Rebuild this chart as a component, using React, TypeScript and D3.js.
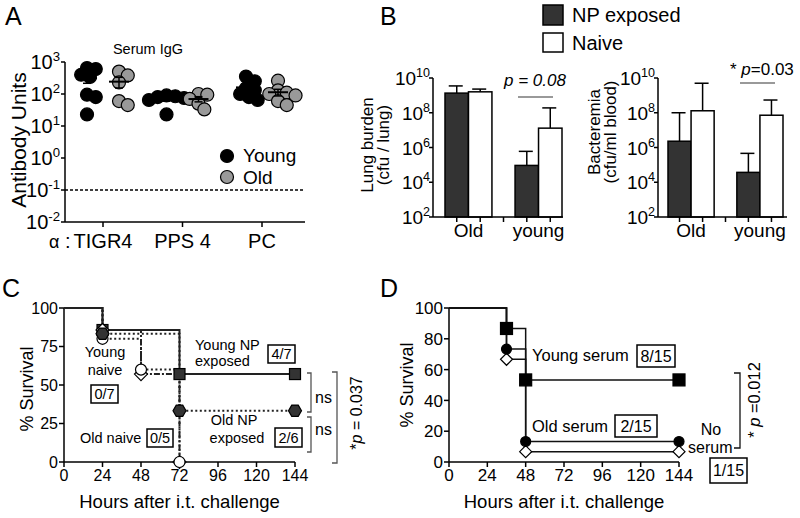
import React from 'react';
import * as d3 from 'd3';

// ---------- Panel A : serum IgG ----------
const antigens = ['TIGR4', 'PPS 4', 'PC'];
const youngTIGR4 = [650, 600, 400, 340, 95, 80, 23];
const oldTIGR4 = [500, 380, 230, 60, 45];
const youngPPS4 = [90, 85, 80, 75, 65, 23];
const oldPPS4 = [100, 95, 70, 50, 33];
const youngPC = [350, 250, 150, 130, 100, 80, 65];
const oldPC = [260, 130, 110, 100, 90, 60, 45];
const aExponents = [-2, -1, 0, 1, 2, 3];
const detectionLimit = 0.1;

// ---------- Panel B : bacterial burden ----------
const bGroups = ['Old', 'young'];
const bSeries = ['NP exposed', 'Naive'];
const lungNP = [1.35e9, 9.3e4];
const lungNaive = [1.6e9, 1.3e7];
const lungNPUpper = [3.5e9, 6e5];
const lungNaiveUpper = [2.3e9, 1.9e8];
const bloodNP = [2.3e6, 3.7e4];
const bloodNaive = [1.3e8, 7.2e7];
const bloodNPUpper = [1e8, 4.6e5];
const bloodNaiveUpper = [5e9, 5.4e8];
const bExponents = [2, 4, 6, 8, 10];

// ---------- Panel C : survival ----------
const hoursNP = [0, 24, 72, 144];
const youngNPSurv = [100, 85.7, 57.1, 57.1];
const oldNPSurv = [100, 83.3, 33.3, 33.3];
const hoursNaive = [0, 24, 48, 72];
const youngNaiveSurv = [100, 85.7, 57.1, 0];
const oldNaiveSurv = [100, 80, 60, 0];
const hourTicks = [0, 24, 48, 72, 96, 120, 144];
const cSurvTicks = [0, 25, 50, 75, 100];

// ---------- Panel D : serum transfer survival ----------
const hoursD = [0, 36, 48, 144];
const youngSerumSurv = [100, 86.7, 53.3, 53.3];
const oldSerumSurv = [100, 73.3, 13.3, 13.3];
const noSerumSurv = [100, 66.7, 6.7, 6.7];
const dSurvTicks = [0, 20, 40, 60, 80, 100];

const FONT = '"Liberation Sans", Arial, Helvetica, sans-serif';

function Pow({ x, y, exp, fs }: { x: number; y: number; exp: number; fs: number }) {
  return (
    <text x={x} y={y} textAnchor="end" fontSize={fs}>
      10
      <tspan dy={-fs * 0.42} fontSize={fs * 0.66}>
        {exp}
      </tspan>
    </text>
  );
}

function swarm(vals: number[], y: (v: number) => number, cx: number, r: number) {
  const pts: { x: number; y: number }[] = [];
  const sorted = vals.map((v) => y(v)).sort((a, b) => a - b);
  for (const py of sorted) {
    let done = false;
    for (let k = 0; k < 40 && !done; k++) {
      const offs = k === 0 ? [0] : [k * r * 0.45, -k * r * 0.45];
      for (const o of offs) {
        const x = cx + o;
        if (pts.every((q) => Math.hypot(q.x - x, q.y - py) >= 2 * r * 0.62)) {
          pts.push({ x, y: py });
          done = true;
          break;
        }
      }
    }
  }
  return pts;
}

function PanelA() {
  const y = d3.scaleLog().domain([1e-2, 1e3]).range([222, 62]);
  const x = d3.scalePoint<string>().domain(antigens).range([103, 262]);
  const young = [youngTIGR4, youngPPS4, youngPC];
  const old = [oldTIGR4, oldPPS4, oldPC];
  const r = 6.5;
  const off = 16;
  const groups = antigens.flatMap((a, i) => [
    { vals: young[i], cx: (x(a) as number) - off, fill: '#000' },
    { vals: old[i], cx: (x(a) as number) + off, fill: '#999' },
  ]);
  return (
    <g>
      <text x={5} y={25} fontSize={25}>A</text>
      <text x={148} y={54} fontSize={14.5} textAnchor="middle">Serum IgG</text>
      <text transform="translate(26,140) rotate(-90)" textAnchor="middle" fontSize={21}>Antibody Units</text>
      <line x1={65} x2={65} y1={y(1e3)} y2={y(1e-2)} stroke="#000" strokeWidth={1.5} />
      <line x1={65} x2={305} y1={y(1e-2)} y2={y(1e-2)} stroke="#000" strokeWidth={1.5} />
      {aExponents.map((e) => (
        <g key={e}>
          <line x1={61} x2={65} y1={y(Math.pow(10, e))} y2={y(Math.pow(10, e))} stroke="#000" strokeWidth={1.5} />
          <Pow x={60} y={y(Math.pow(10, e)) + 7} exp={e} fs={20} />
        </g>
      ))}
      {antigens.map((a) => (
        <g key={a}>
          <line x1={x(a)} x2={x(a)} y1={222} y2={227} stroke="#000" strokeWidth={1.5} />
          <text x={x(a)} y={248} textAnchor="middle" fontSize={20}>{a}</text>
        </g>
      ))}
      <text x={49} y={248} fontSize={18}>α</text>
      <text x={65} y={248} fontSize={20}>:</text>
      <line x1={65} x2={305} y1={y(detectionLimit)} y2={y(detectionLimit)} stroke="#000" strokeWidth={1.5} strokeDasharray="3,2" />
      {groups.map((g, gi) => {
        const pts = swarm(g.vals, y, g.cx, r);
        const m = d3.mean(g.vals) as number;
        const sem = (d3.deviation(g.vals) as number) / Math.sqrt(g.vals.length);
        return (
          <g key={gi}>
            {pts.map((p, i) => (
              <circle key={i} cx={p.x} cy={p.y} r={r} fill={g.fill} stroke="#000" strokeWidth={1.2} />
            ))}
            <line x1={g.cx - 10} x2={g.cx + 10} y1={y(m)} y2={y(m)} stroke="#000" strokeWidth={2} />
            <line x1={g.cx} x2={g.cx} y1={y(m - sem)} y2={y(m + sem)} stroke="#000" strokeWidth={1.5} />
            <line x1={g.cx - 4} x2={g.cx + 4} y1={y(m + sem)} y2={y(m + sem)} stroke="#000" strokeWidth={1.5} />
            <line x1={g.cx - 4} x2={g.cx + 4} y1={y(m - sem)} y2={y(m - sem)} stroke="#000" strokeWidth={1.5} />
          </g>
        );
      })}
      <circle cx={227} cy={156} r={r} fill="#000" stroke="#000" strokeWidth={1.2} />
      <text x={243} y={162} fontSize={19}>Young</text>
      <circle cx={227} cy={177} r={r} fill="#999" stroke="#000" strokeWidth={1.2} />
      <text x={243} y={184} fontSize={19}>Old</text>
    </g>
  );
}

function BarPanel(props: {
  axisX: number; x0: number; x1: number; axisEnd: number;
  np: number[]; naive: number[]; npUp: number[]; naiveUp: number[];
  label1: string; label2: string; labX: number; labY: number;
}) {
  const y = d3.scaleLog().domain([1e2, 1e10]).range([217, 78]);
  const xo = d3.scaleBand().domain(bGroups).range([props.x0, props.x1]).paddingInner(0.33).paddingOuter(0);
  const xi = d3.scaleBand().domain(bSeries).range([0, xo.bandwidth()]);
  const bars = bGroups.flatMap((g, i) => [
    { g, s: bSeries[0], v: props.np[i], up: props.npUp[i], fill: '#333' },
    { g, s: bSeries[1], v: props.naive[i], up: props.naiveUp[i], fill: '#fff' },
  ]);
  const centers = bars.map((b) => (xo(b.g) as number) + (xi(b.s) as number) + xi.bandwidth() / 2);
  const mid = ((xo('Old') as number) + xo.bandwidth() + (xo('young') as number)) / 2;
  const tickXs = [...centers.slice(0, 2), mid, ...centers.slice(2)];
  return (
    <g>
      {bars.map((b, i) => {
        const bx = (xo(b.g) as number) + (xi(b.s) as number);
        const cx = bx + xi.bandwidth() / 2;
        return (
          <g key={i}>
            <line x1={cx} x2={cx} y1={y(b.v)} y2={y(b.up)} stroke="#000" strokeWidth={1.5} />
            <line x1={cx - 8} x2={cx + 6} y1={y(b.up)} y2={y(b.up)} stroke="#000" strokeWidth={1.5} />
            <rect x={bx} y={y(b.v)} width={xi.bandwidth()} height={217 - y(b.v)} fill={b.fill} stroke="#000" strokeWidth={1.5} />
          </g>
        );
      })}
      <line x1={props.axisX} x2={props.axisX} y1={78} y2={217} stroke="#000" strokeWidth={1.5} />
      <line x1={props.axisX} x2={props.axisEnd} y1={217} y2={217} stroke="#000" strokeWidth={1.5} />
      {bExponents.map((e) => (
        <g key={e}>
          <line x1={props.axisX - 4} x2={props.axisX} y1={y(Math.pow(10, e))} y2={y(Math.pow(10, e))} stroke="#000" strokeWidth={1.5} />
          <Pow x={props.axisX - 3} y={y(Math.pow(10, e)) + 7} exp={e} fs={19} />
        </g>
      ))}
      {tickXs.map((t, i) => (
        <line key={i} x1={t} x2={t} y1={217} y2={222} stroke="#000" strokeWidth={1.5} />
      ))}
      {bGroups.map((g) => (
        <text key={g} x={(xo(g) as number) + xo.bandwidth() / 2} y={237} textAnchor="middle" fontSize={19}>{g}</text>
      ))}
      <text transform={`translate(${props.labX},${props.labY}) rotate(-90)`} textAnchor="middle" fontSize={17}>{props.label1}</text>
      <text transform={`translate(${props.labX + 16},${props.labY}) rotate(-90)`} textAnchor="middle" fontSize={17}>{props.label2}</text>
    </g>
  );
}

function PanelB() {
  return (
    <g>
      <text x={380} y={25} fontSize={25}>B</text>
      <rect x={543} y={5} width={20} height={20} fill="#333" stroke="#000" strokeWidth={1.5} />
      <text x={572} y={22} fontSize={20}>{bSeries[0]}</text>
      <rect x={543} y={33} width={20} height={19} fill="#fff" stroke="#000" strokeWidth={1.5} />
      <text x={572} y={50} fontSize={20}>{bSeries[1]}</text>
      <BarPanel axisX={433} x0={445} x1={562} axisEnd={563}
        np={lungNP} naive={lungNaive} npUp={lungNPUpper} naiveUp={lungNaiveUpper}
        label1="Lung burden" label2="(cfu / lung)" labX={373} labY={145} />
      <text x={535} y={86} textAnchor="middle" fontSize={17} fontStyle="italic">p = 0.08</text>
      <line x1={518} x2={553} y1={97} y2={97} stroke="#777" strokeWidth={1.5} />
      <BarPanel axisX={658} x0={668} x1={783} axisEnd={787}
        np={bloodNP} naive={bloodNaive} npUp={bloodNPUpper} naiveUp={bloodNaiveUpper}
        label1="Bacteremia" label2="(cfu/ml blood)" labX={600} labY={132} />
      <text x={730} y={75} fontSize={17}>* <tspan fontStyle="italic">p</tspan>=0.03</text>
      <line x1={740} x2={775} y1={83} y2={83} stroke="#777" strokeWidth={1.5} />
    </g>
  );
}

const stepLine = (x: d3.ScaleLinear<number, number>, y: d3.ScaleLinear<number, number>) =>
  d3.line<[number, number]>().x((d) => x(d[0])).y((d) => y(d[1])).curve(d3.curveStepAfter);

function marker(type: string, cx: number, cy: number, r: number, fill: string, key: string) {
  if (type === 'square')
    return <rect key={key} x={cx - r} y={cy - r} width={2 * r} height={2 * r} fill={fill} stroke="#000" strokeWidth={1.2} />;
  if (type === 'circle') return <circle key={key} cx={cx} cy={cy} r={r} fill={fill} stroke="#000" strokeWidth={1.2} />;
  if (type === 'diamond')
    return <path key={key} d={`M${cx},${cy - r}L${cx + r},${cy}L${cx},${cy + r}L${cx - r},${cy}Z`} fill={fill} stroke="#000" strokeWidth={1.2} />;
  const pts = d3.range(6).map((i) => [cx + r * Math.cos((i * Math.PI) / 3), cy + r * Math.sin((i * Math.PI) / 3)]);
  return <path key={key} d={'M' + pts.map((p) => p.join(',')).join('L') + 'Z'} fill={fill} stroke="#000" strokeWidth={1.2} />;
}

function Axes({ x, y, yTicks, fs }: { x: d3.ScaleLinear<number, number>; y: d3.ScaleLinear<number, number>; yTicks: number[]; fs: number }) {
  const [x0] = x.range();
  return (
    <g>
      <line x1={x0} x2={x0} y1={y(100)} y2={y(0)} stroke="#000" strokeWidth={1.5} />
      <line x1={x0} x2={x(144)} y1={y(0)} y2={y(0)} stroke="#000" strokeWidth={1.5} />
      {yTicks.map((t) => (
        <g key={t}>
          <line x1={x0 - 5} x2={x0} y1={y(t)} y2={y(t)} stroke="#000" strokeWidth={1.5} />
          <text x={x0 - 6} y={y(t) + fs * 0.36} textAnchor="end" fontSize={fs}>{t}</text>
        </g>
      ))}
      {hourTicks.map((t) => (
        <g key={t}>
          <line x1={x(t)} x2={x(t)} y1={y(0)} y2={y(0) + 5} stroke="#000" strokeWidth={1.5} />
          <text x={x(t)} y={481} textAnchor="middle" fontSize={fs}>{t}</text>
        </g>
      ))}
      <text x={(x(0) + x(144)) / 2} y={508} textAnchor="middle" fontSize={18.5}>Hours after i.t. challenge</text>
    </g>
  );
}

function Box({ x, y, w, h, t, fs }: { x: number; y: number; w: number; h: number; t: string; fs: number }) {
  return (
    <g>
      <rect x={x} y={y} width={w} height={h} fill="#fff" stroke="#000" strokeWidth={1.5} />
      <text x={x + w / 2} y={y + h / 2 + fs * 0.36} textAnchor="middle" fontSize={fs}>{t}</text>
    </g>
  );
}

function PanelC() {
  const x = d3.scaleLinear().domain([0, 144]).range([64, 295]);
  const y = d3.scaleLinear().domain([0, 100]).range([462, 308]);
  const line = stepLine(x, y);
  const groups = [
    { t: hoursNP, s: youngNPSurv, dash: '', sym: 'square', fill: '#333', r: 5.5 },
    { t: hoursNaive, s: youngNaiveSurv, dash: '6,2,2,2', sym: 'diamond', fill: '#fff', r: 6.5 },
    { t: hoursNaive, s: oldNaiveSurv, dash: '2,2.5', sym: 'circle', fill: '#fff', r: 5.5 },
    { t: hoursNP, s: oldNPSurv, dash: '2,2.5', sym: 'hex', fill: '#333', r: 6.5 },
  ];
  return (
    <g>
      <text x={2} y={297} fontSize={25}>C</text>
      <text transform="translate(33,389) rotate(-90)" textAnchor="middle" fontSize={18}>% Survival</text>
      <Axes x={x} y={y} yTicks={cSurvTicks} fs={16} />
      {[...groups].reverse().map((g, i) => (
        <path key={i} d={line(g.t.map((t, j) => [t, g.s[j]] as [number, number])) as string}
          fill="none" stroke="#222" strokeWidth={2} strokeDasharray={g.dash} />
      ))}
      {groups.map((g, i) => g.t.slice(1).map((t, j) => marker(g.sym, x(t), y(g.s[j + 1]), g.r, g.fill, `${i}-${j}`)))}
      <text x={195} y={350} fontSize={14.5}>Young NP</text>
      <text x={195} y={366} fontSize={14.5}>exposed</text>
      <Box x={268} y={345} w={27} h={18} t="4/7" fs={14.5} />
      <text x={105} y={357} textAnchor="middle" fontSize={14.5}>Young</text>
      <text x={105} y={375} textAnchor="middle" fontSize={14.5}>naive</text>
      <Box x={91} y={385} w={27} h={18} t="0/7" fs={14.5} />
      <text x={80} y={443} fontSize={14.5}>Old naive</text>
      <Box x={147} y={429} w={26} h={18} t="0/5" fs={14.5} />
      <text x={234} y={425} textAnchor="middle" fontSize={14.5}>Old NP</text>
      <text x={237} y={443} textAnchor="middle" fontSize={14.5}>exposed</text>
      <Box x={275} y={428} w={27} h={19} t="2/6" fs={14.5} />
      <path d="M307,373H311V412H307" fill="none" stroke="#555" strokeWidth={1.3} />
      <path d="M307,417H311V452H307" fill="none" stroke="#555" strokeWidth={1.3} />
      <text x={315} y={403} fontSize={16}>ns</text>
      <text x={315} y={435} fontSize={16}>ns</text>
      <path d="M332,372H337V463H332" fill="none" stroke="#555" strokeWidth={1.3} />
      <text transform="translate(362,413) rotate(-90)" textAnchor="middle" fontSize={16}>
        *<tspan fontStyle="italic">p</tspan> = 0.037
      </text>
    </g>
  );
}

function PanelD() {
  const x = d3.scaleLinear().domain([0, 144]).range([449, 679]);
  const y = d3.scaleLinear().domain([0, 100]).range([462, 308]);
  const line = stepLine(x, y);
  const groups = [
    { s: noSerumSurv, sym: 'diamond', fill: '#fff', r: 6 },
    { s: oldSerumSurv, sym: 'circle', fill: '#000', r: 5 },
    { s: youngSerumSurv, sym: 'square', fill: '#000', r: 6 },
  ];
  return (
    <g>
      <text x={380} y={297} fontSize={25}>D</text>
      <text transform="translate(413,385) rotate(-90)" textAnchor="middle" fontSize={18}>% Survival</text>
      <Axes x={x} y={y} yTicks={dSurvTicks} fs={17} />
      {groups.map((g, i) => (
        <path key={i} d={line(hoursD.map((t, j) => [t, g.s[j]] as [number, number])) as string}
          fill="none" stroke="#111" strokeWidth={1.5} />
      ))}
      {groups.map((g, i) => hoursD.slice(1).map((t, j) => marker(g.sym, x(t), y(g.s[j + 1]), g.r, g.fill, `${i}-${j}`)))}
      <text x={532} y={361} fontSize={16.5}>Young serum</text>
      <Box x={637} y={345} w={38} h={22} t="8/15" fs={16} />
      <text x={532} y={432} fontSize={16.5}>Old serum</text>
      <Box x={615} y={415} w={42} h={22} t="2/15" fs={16} />
      <text x={711} y={435} textAnchor="middle" fontSize={16}>No</text>
      <text x={688} y={453} fontSize={16}>serum</text>
      <Box x={710} y={458} w={37} h={25} t="1/15" fs={16} />
      <path d="M734,373H740V448H734" fill="none" stroke="#111" strokeWidth={1.3} />
      <text transform="translate(760,400) rotate(-90)" textAnchor="middle" fontSize={16.5}>
        * <tspan fontStyle="italic">p</tspan> =0.012
      </text>
    </g>
  );
}

export default function App() {
  return (
    <svg width={800} height={518} style={{ position: 'absolute', left: 0, top: 0, background: '#fff' }}
      fontFamily={FONT} fill="#000">
      <rect width={800} height={518} fill="#fff" />
      <PanelA />
      <PanelB />
      <PanelC />
      <PanelD />
    </svg>
  );
}
